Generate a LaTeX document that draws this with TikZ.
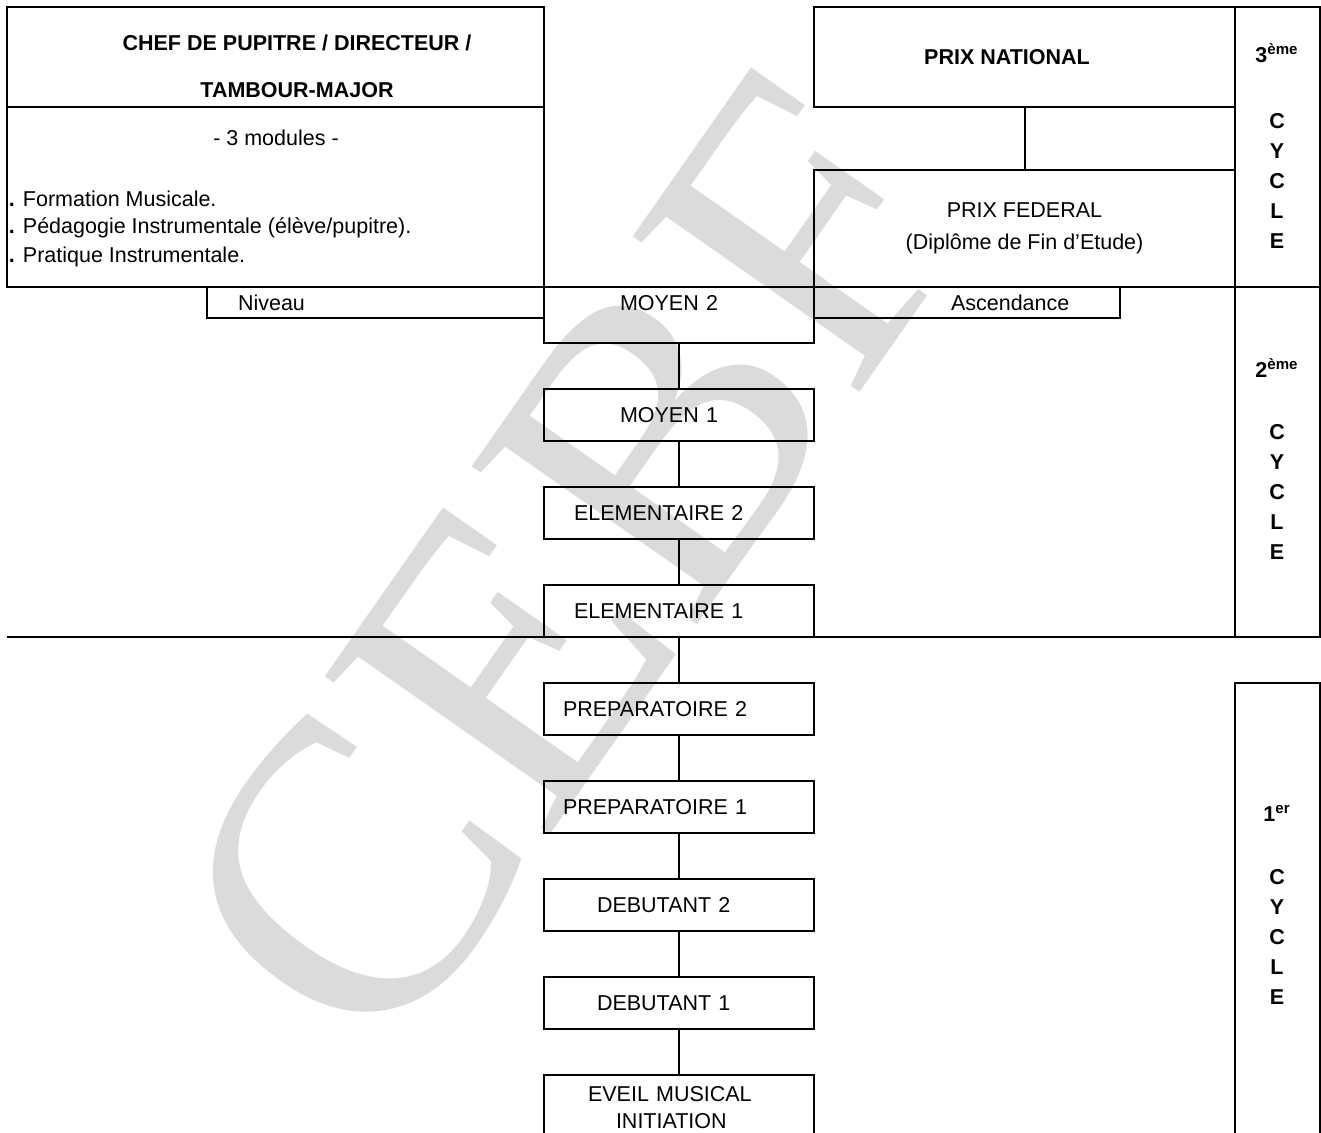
\documentclass[tikz,border=0pt]{standalone}
\usepackage{fontspec}
\setmainfont{Liberation Sans}
\newfontfamily\wmfont{Liberation Serif}
\usetikzlibrary{positioning}

\tikzset{
  box/.style={draw, line width=1pt, inner sep=0pt, outer sep=0pt},
  grade/.style={box, minimum width=135pt, minimum height=26pt, text width=135pt, align=left},
  cyc/.style={font=\bfseries, inner sep=0pt, align=center},
}

\begin{document}
\begin{tikzpicture}[x=0.5pt, y=-0.5pt, line width=1pt, node distance=23pt]
\fontsize{10.75}{13}\selectfont

\useasboundingbox (0,0) rectangle (1321,1133);

% watermark
\node[rotate=55, text=black!14, font=\wmfont\fontsize{210}{210}\selectfont] (wm) at (572,565) {CEBF};

% chef de pupitre
\node[box, minimum width=268.5pt, minimum height=50pt, anchor=north west] (chef) at (7,7) {};
\node[box, minimum width=268.5pt, minimum height=90pt, anchor=north west] (mods) at (chef.south west) {};
\node[font=\bfseries] (chefA) at (297,43) {CHEF DE PUPITRE / DIRECTEUR /};
\node[font=\bfseries] (chefB) at (297,90) {TAMBOUR-MAJOR};
\node (modA) at (276,138) {- 3 modules -};
\node[anchor=west, inner sep=0pt] (modB) at (8,199) {\textbf{.} Formation Musicale.};
\node[anchor=west, inner sep=0pt] (modC) at (8,228) {\textbf{.} Pédagogie Instrumentale (élève/pupitre).};
\node[anchor=west, inner sep=0pt] (modD) at (8,257) {\textbf{.} Pratique Instrumentale.};

% niveaux
\node[grade, minimum height=28pt, text depth=12pt, anchor=north west] (m2) at (mods.south east) {\hspace*{38pt}MOYEN 2};
\node[box, text width=168.5pt, minimum height=15.5pt, align=left, anchor=north east] (niv) at (m2.north west) {\hspace*{15.5pt}Niveau};
\node[box, text width=153pt, minimum height=15.5pt, align=left, anchor=north west] (asc) at (m2.north east) {\hspace*{68.5pt}Ascendance};
\node[grade, below=of m2] (m1) {\hspace*{38pt}MOYEN 1};
\node[grade, below=of m1] (e2) {\hspace*{15pt}ELEMENTAIRE 2};
\node[grade, below=of e2] (e1) {\hspace*{15pt}ELEMENTAIRE 1};
\node[grade, below=of e1] (p2) {\hspace*{9.5pt}PREPARATOIRE 2};
\node[grade, below=of p2] (p1) {\hspace*{9.5pt}PREPARATOIRE 1};
\node[grade, below=of p1] (d2) {\hspace*{26.5pt}DEBUTANT 2};
\node[grade, below=of d2] (d1) {\hspace*{26.5pt}DEBUTANT 1};
\node[grade, below=of d1, minimum height=32.5pt, font=\fontsize{10.75}{13.5}\selectfont] (ev) {\hspace*{22pt}EVEIL MUSICAL\\\hspace*{36pt}INITIATION};

\foreach \a/\b in {m2/m1, m1/e2, e2/e1, e1/p2, p2/p1, p1/d2, d2/d1, d1/ev}
  \draw (\a) -- (\b);

% prix
\node[box, minimum width=210.5pt, minimum height=50pt, anchor=north west, font=\bfseries] (natl) at (814,7) {\hspace*{-17.5pt}PRIX NATIONAL};
\node[box, minimum width=210.5pt, minimum height=58.5pt, anchor=south west, align=center] (fed) at (m2.north east) {PRIX FEDERAL\\[3pt](Diplôme de Fin d'Etude)};
\draw (natl) -- (fed);

% cycles
\node[box, minimum width=42.5pt, minimum height=140pt, anchor=north west] (c3) at (natl.north east) {};
\node[box, minimum width=42.5pt, minimum height=175pt, anchor=north] (c2) at (c3.south) {};
\node[box, minimum width=42.5pt, minimum height=230pt, anchor=north west] (c1) at (p2.north -| c2.west) {};
\draw (mods.west |- c2.south) -- (c2.south west);

\foreach \lvl/\ex/\yt/\yc in {3/ème/53/181, 2/ème/368/492, 1/er/813/937} {
  \node[cyc] (num\lvl) at (1277,\yt) {\lvl\textsuperscript{\ex}};
  \node[cyc] (word\lvl) at (1277,\yc) {C\\[2pt]Y\\[2pt]C\\[2pt]L\\[2pt]E};
}

\end{tikzpicture}
\end{document}
